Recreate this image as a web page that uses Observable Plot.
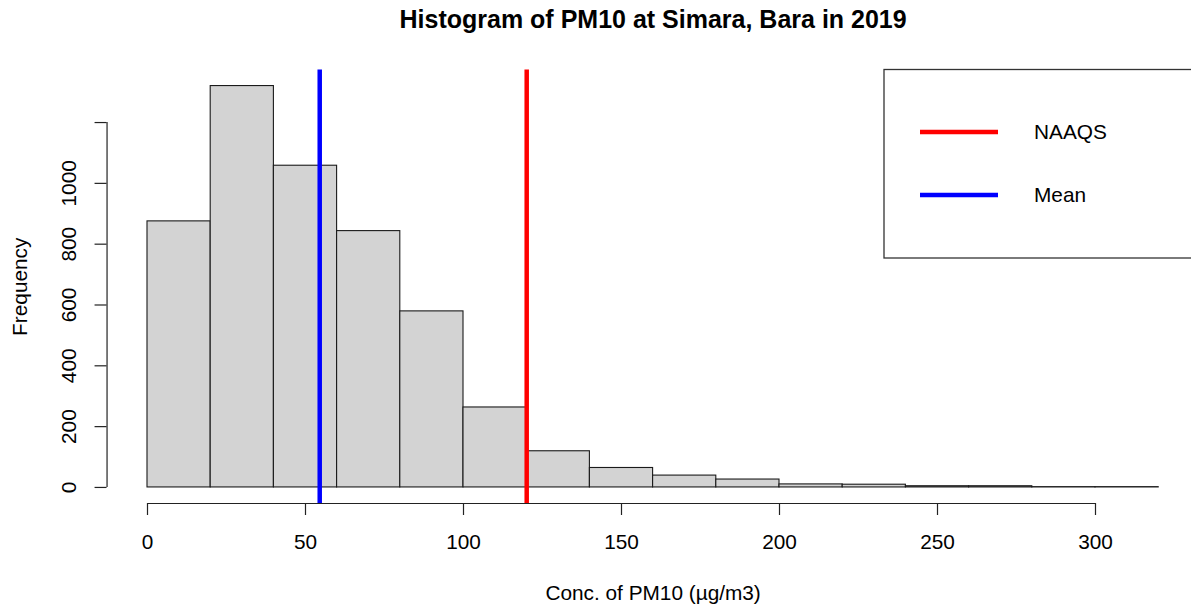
<!DOCTYPE html>
<html><head><meta charset="utf-8">
<script src="https://cdn.jsdelivr.net/npm/d3@7"></script>
<script src="https://cdn.jsdelivr.net/npm/@observablehq/plot@0.6"></script>
<style>
html,body{margin:0;padding:0;background:#fff;}
#chart{width:1191px;height:607px;overflow:hidden;}
</style></head><body><div id="chart"></div>
<script>
// ---- data ----
const binStarts = [0,20,40,60,80,100,120,140,160,180,200,220,240,260,280,300];
const binWidth = 20;
const counts = [875,1320,1058,843,579,263,119,64,39,26,10,9,4,4,1,1];
const xTicks = [0,50,100,150,200,250,300];
const yTicks = [0,200,400,600,800,1000,1200];
const yTickLabels = ["0","200","400","600","800","1000",""];
const meanValue = 54.5;
const naaqsValue = 120;
const legendLabels = ["NAAQS","Mean"];
const legendColors = ["red","blue"];
const titleText = "Histogram of PM10 at Simara, Bara in 2019";
const xLabel = "Conc. of PM10 (µg/m3)";
const yLabel = "Frequency";

// ---- build ----
const bins = binStarts.map((x0,i)=>({x1:x0, x2:x0+binWidth, count:counts[i]}));
const W = 1191, H = 607;
const xMax = binStarts[binStarts.length-1] + binWidth;
const xPad = 0.04*xMax;
const xDomain = [-xPad, xMax + xPad];
const yMax = d3.max(counts);
const yPad = 0.04*yMax;
const yDomain = [-yPad, yMax + yPad];
const FONT = "'Liberation Sans', Arial, Helvetica, sans-serif";
const fs = 20.8;
const axisColor = "#222";

function legendMark(index, scales, values, dims) {
  const right = scales.x(xDomain[1]);
  const top = scales.y(yDomain[1]);
  const left = 884;
  const g = d3.create("svg:g");
  g.append("rect").attr("x", left).attr("y", top).attr("width", right-left).attr("height", 188.5)
    .attr("fill","white").attr("stroke","#333").attr("stroke-width",1.3);
  legendLabels.forEach((lab,i)=>{
    const y = top + 62.5 + i*63;
    g.append("line").attr("x1", left+36).attr("x2", left+114).attr("y1", y).attr("y2", y)
      .attr("stroke", legendColors[i]).attr("stroke-width", 4.5);
    g.append("text").attr("x", left+150).attr("y", y).attr("dy","0.35em")
      .attr("text-anchor","start")
      .attr("font-size", fs).attr("font-family", FONT).attr("fill","#000").text(lab);
  });
  return g.node();
}

const chart = Plot.plot({
  width: W, height: H,
  marginLeft: 106.55, marginRight: 0, marginTop: 69.5, marginBottom: 104,
  style: {fontFamily: FONT, fontSize: fs+"px", color: axisColor, background: "white"},
  x: {domain: xDomain, range: [106.55, 1198.65]},
  y: {domain: yDomain, range: [503, 69.5]},
  marks: [
    Plot.rect(bins, {x1:"x1", x2:"x2", y1:0, y2:"count", fill:"#d3d3d3", stroke:"#1a1a1a", strokeWidth:1.1}),
    Plot.ruleY([yDomain[0]], {x1: xTicks[0], x2: xTicks[xTicks.length-1], stroke: axisColor, strokeWidth: 1.2}),
    Plot.axisX({ticks: xTicks, tickSize: 12, tickPadding: 19, label: null, strokeWidth: 1.2, fill: "#000"}),
    Plot.ruleX([xDomain[0]], {y1: yTicks[0], y2: yTicks[yTicks.length-1], stroke: axisColor, strokeWidth: 1.2}),
    Plot.axisY({ticks: yTicks, tickSize: 12, tickPadding: 19, tickRotate: -90, label: null,
      tickFormat: d => yTickLabels[yTicks.indexOf(d)], strokeWidth: 1.2, fill: "#000"}),
    Plot.ruleX([naaqsValue], {y1: yDomain[0], y2: yDomain[1], stroke: "red", strokeWidth: 4.5}),
    Plot.ruleX([meanValue], {y1: yDomain[0], y2: yDomain[1], stroke: "blue", strokeWidth: 4.5}),
    Plot.text([titleText], {x: (xDomain[0]+xDomain[1])/2, frameAnchor: "top", dy: -50.5, text: d=>d,
      fontSize: 25, fontWeight: "bold", textAnchor: "middle", lineAnchor: "middle", fill: "#000"}),
    Plot.text([xLabel], {x: (xDomain[0]+xDomain[1])/2, frameAnchor: "bottom", dy: 90.3, text: d=>d,
      textAnchor: "middle", lineAnchor: "middle", fill: "#000"}),
    Plot.text([yLabel], {y: (yDomain[0]+yDomain[1])/2, frameAnchor: "left", dx: -87.2, rotate: -90, text: d=>d,
      textAnchor: "middle", lineAnchor: "middle", fill: "#000"}),
    legendMark
  ]
});
document.getElementById("chart").appendChild(chart);
</script></body></html>
